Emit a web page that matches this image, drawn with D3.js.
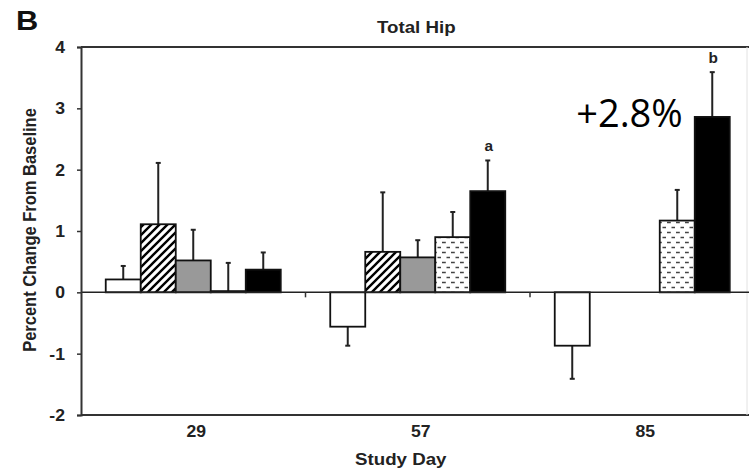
<!DOCTYPE html>
<html>
<head>
<meta charset="utf-8">
<script src="https://cdn.jsdelivr.net/npm/d3@7"></script>
<style>
  body { margin: 0; background: #fff; }
  svg { display: block; }
  text { font-family: "Liberation Sans", Arial, sans-serif; font-weight: bold; fill: #222; }
</style>
</head>
<body>
<svg width="749" height="471"></svg>
<script>
var svg = d3.select('svg');

// study days (x categories) and the five treatment groups
var days = ["29", "57", "85"];
var groups = ["g1", "g2", "g3", "g4", "g5"];

// mean percent change from baseline, per group, per day (null = no bar)
var g1Mean = [0.21, -0.56, -0.87];
var g2Mean = [1.11, 0.66, null];
var g3Mean = [0.52, 0.57, null];
var g4Mean = [0.02, 0.90, 1.17];
var g5Mean = [0.37, 1.65, 2.86];

// error bar lengths
var g1Err = [0.22, 0.31, 0.54];
var g2Err = [1.00, 0.97, null];
var g3Err = [0.50, 0.28, null];
var g4Err = [0.46, 0.41, 0.50];
var g5Err = [0.28, 0.50, 0.73];

// significance letters on the black group
var g5Letters = ["", "a", "b"];

var yTicks = [-2, -1, 0, 1, 2, 3, 4];

var means = [g1Mean, g2Mean, g3Mean, g4Mean, g5Mean];
var errs = [g1Err, g2Err, g3Err, g4Err, g5Err];
var fills = ["#fff", "url(#hatch)", "#999", "url(#dash)", "#000"];

var pLeft = 81, pTop = 47, pBottom = 415, pRight = 754.5;
var sx = 1.1; // the original figure is a little stretched sideways

var x0 = d3.scaleBand().domain(days).range([pLeft, pRight]);
var x1 = d3.scaleBand().domain(groups).range([0, x0.bandwidth()]).paddingOuter(0.707);
var y = d3.scaleLinear().domain([-2, 4]).range([pBottom, pTop]);

// patterns
var defs = svg.append('defs');
var hatch = defs.append('pattern').attr('id', 'hatch')
    .attr('patternUnits', 'userSpaceOnUse').attr('width', 8).attr('height', 8);
hatch.append('rect').attr('width', 8).attr('height', 8).attr('fill', '#fff');
hatch.append('path').attr('d', 'M-2,10L10,-2M-2,2L2,-2M6,10L10,6')
    .attr('stroke', '#000').attr('stroke-width', 2.4);

var dash = defs.append('pattern').attr('id', 'dash')
    .attr('patternUnits', 'userSpaceOnUse').attr('width', 9).attr('height', 10);
dash.append('rect').attr('width', 9).attr('height', 10).attr('fill', '#fff');
dash.append('path').attr('d', 'M1,2.5h3.8M5.5,7.5h3.8')
    .attr('stroke', '#444').attr('stroke-width', 1.4);

function stretchText(sel, xx, yy, extra) {
    return sel.attr('transform', 'translate(' + xx + ',' + yy + ') scale(' + sx + ',1)' + (extra || ''));
}

// bars data
var rows = [];
days.forEach(function(day, i) {
    groups.forEach(function(g, j) {
        if (means[j][i] !== null) {
            rows.push({day: day, group: g, value: means[j][i], err: errs[j][i], fill: fills[j]});
        }
    });
});

function cx(d) { return x0(d.day) + x1(d.group) + x1.bandwidth() / 2; }
function errEnd(d) { return y(d.value + (d.value < 0 ? -d.err : d.err)); }

// frame lines
svg.append('line').attr('x1', pLeft).attr('x2', 749).attr('y1', pTop).attr('y2', pTop)
    .attr('stroke', '#333').attr('stroke-width', 2);
svg.append('line').attr('x1', pLeft).attr('x2', 749).attr('y1', pBottom).attr('y2', pBottom)
    .attr('stroke', '#333').attr('stroke-width', 2);
svg.append('line').attr('x1', 747).attr('x2', 747).attr('y1', pTop).attr('y2', pBottom)
    .attr('stroke', '#e2e2e2').attr('stroke-width', 1);

// error bars
var eb = svg.append('g').selectAll('g').data(rows).enter().append('g');
eb.append('line')
    .attr('x1', cx).attr('x2', cx)
    .attr('y1', function(d) { return y(d.value); })
    .attr('y2', errEnd)
    .attr('stroke', '#222').attr('stroke-width', 2);
eb.append('line')
    .attr('x1', function(d) { return cx(d) - 2.5; })
    .attr('x2', function(d) { return cx(d) + 2.5; })
    .attr('y1', errEnd).attr('y2', errEnd)
    .attr('stroke', '#222').attr('stroke-width', 2);

// bars
svg.append('g').selectAll('rect').data(rows).enter().append('rect')
    .attr('x', function(d) { return x0(d.day) + x1(d.group); })
    .attr('y', function(d) { return y(Math.max(0, d.value)); })
    .attr('width', x1.bandwidth())
    .attr('height', function(d) { return Math.abs(y(d.value) - y(0)); })
    .attr('fill', function(d) { return d.fill; })
    .attr('stroke', '#111').attr('stroke-width', 1.8);

// zero line with small ticks between days
svg.append('line').attr('x1', pLeft).attr('x2', 749).attr('y1', y(0)).attr('y2', y(0))
    .attr('stroke', '#222').attr('stroke-width', 1.5);
svg.append('g').selectAll('line').data(days.slice(1)).enter().append('line')
    .attr('x1', function(d) { return x0(d); }).attr('x2', function(d) { return x0(d); })
    .attr('y1', y(0)).attr('y2', y(0) + 5)
    .attr('stroke', '#333').attr('stroke-width', 1.5);

// y axis
var yAxis = svg.append('g').attr('transform', 'translate(' + pLeft + ',0)')
    .call(d3.axisLeft(y).tickValues(yTicks).tickSize(4).tickFormat(''));
yAxis.select('.domain').attr('stroke', '#333').attr('stroke-width', 2);
yAxis.selectAll('.tick line').attr('stroke', '#333').attr('stroke-width', 1.5);
yTicks.forEach(function(t) {
    stretchText(svg.append('text'), pLeft - 16, y(t) + 6)
        .attr('text-anchor', 'end').style('font-size', '16px').text(t);
});

// x tick labels
days.forEach(function(d) {
    stretchText(svg.append('text'), x0(d) + x0.bandwidth() / 2 + 3, 437)
        .attr('text-anchor', 'middle').style('font-size', '16px').text(d);
});

// significance letters
days.forEach(function(d, i) {
    if (g5Letters[i]) {
        stretchText(svg.append('text'),
            x0(d) + x1('g5') + x1.bandwidth() / 2 + 1,
            y(g5Mean[i] + g5Err[i]) - 9)
            .attr('text-anchor', 'middle').style('font-size', '14px').text(g5Letters[i]);
    }
});

// titles
stretchText(svg.append('text'), 377, 33).style('font-size', '17px').text('Total Hip');
stretchText(svg.append('text'), 16, 30).style('font-size', '28px').style('fill', '#111').text('B');
stretchText(svg.append('text'), (pLeft + pRight) / 2 - 17, 465)
    .attr('text-anchor', 'middle').style('font-size', '17px').text('Study Day');
stretchText(svg.append('text'), 36, (pTop + pBottom) / 2 - 1, ' rotate(-90)')
    .attr('text-anchor', 'middle').style('font-size', '16.5px').text('Percent Change From Baseline');

// annotation
svg.append('text')
    .attr('x', x0('85') + x1('g5') - 12)
    .attr('y', y(g5Mean[2]) + 10)
    .attr('text-anchor', 'end')
    .style('font-family', '"Open Sans", sans-serif')
    .style('font-weight', 'normal')
    .style('font-size', '38px')
    .style('fill', '#000')
    .text('+2.8%');
</script>
</body>
</html>
